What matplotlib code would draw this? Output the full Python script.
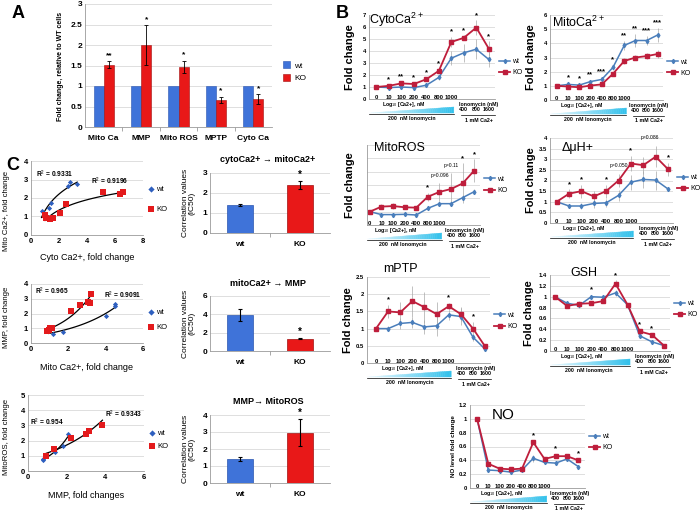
import numpy as np
import matplotlib
matplotlib.use('Agg')
import matplotlib.pyplot as plt
import matplotlib.transforms as mtransforms
from matplotlib.patches import Polygon

plt.rcParams['font.family'] = ['Liberation Sans', 'DejaVu Sans']
plt.rcParams['mathtext.fontset'] = 'custom'
plt.rcParams['mathtext.rm'] = 'Liberation Sans'
plt.rcParams['mathtext.bf'] = 'Liberation Sans:bold'

# ---------------- data ----------------
# panel A
a_cats = ['Mito Ca', 'MMP', 'Mito ROS', 'MPTP', 'Cyto Ca']
a_wt = [1, 1, 1, 1, 1]
a_ko = [1.52, 2.0, 1.47, 0.66, 0.68]
a_ko_err = [0.08, 0.48, 0.15, 0.07, 0.12]
a_stars = ['**', '*', '*', '*', '*']

# panel B (10 points: 7 Ca2+ steps + 3 ionomycin doses)
conc_labels = ['0', '10', '100', '200', '400', '800', '1000']
iono_labels = ['400', '800', '1600']

cyto_wt = [1.0, 0.95, 1.0, 0.95, 1.15, 1.8, 3.4, 3.85, 4.15, 3.3]
cyto_ko = [1.0, 1.1, 1.3, 1.25, 1.65, 2.35, 4.75, 5.1, 5.95, 4.2]
cyto_wt_err = [0.05, 0.1, 0.1, 0.1, 0.15, 0.2, 0.6, 0.75, 0.85, 0.6]
cyto_ko_err = [0.05, 0.1, 0.1, 0.1, 0.1, 0.15, 0.4, 0.2, 0.6, 0.6]
cyto_stars = ['', '*', '**', '*', '*', '*', '*', '*', '*', '*']

mito_wt = [1.0, 1.1, 1.05, 1.3, 1.45, 2.3, 3.85, 4.2, 4.2, 4.6]
mito_ko = [1.0, 0.95, 0.9, 1.02, 1.1, 1.85, 2.75, 3.0, 3.1, 3.25]
mito_wt_err = [0.05, 0.1, 0.1, 0.1, 0.15, 0.2, 0.35, 0.45, 0.3, 0.5]
mito_ko_err = [0.05, 0.1, 0.1, 0.1, 0.1, 0.15, 0.2, 0.2, 0.2, 0.3]
mito_stars = ['', '*', '*', '**', '***', '*', '**', '**', '***', '***']

ros_wt = [1.0, 0.78, 0.78, 0.8, 0.75, 1.25, 1.6, 1.6, 2.05, 2.5]
ros_ko = [1.0, 1.38, 1.42, 1.33, 1.3, 2.12, 2.48, 2.7, 3.12, 4.08]
ros_wt_err = [0.03, 0.05, 0.05, 0.05, 0.05, 0.1, 0.2, 0.2, 0.2, 0.2]
ros_ko_err = [0.05, 0.2, 0.2, 0.15, 0.15, 0.3, 0.65, 1.2, 1.5, 0.85]
ros_stars = ['', '', '', '', '', '*', '', '', '*', '*']
ros_p = {6: 'p=0.096', 7: 'p=0.11'}

dmh_wt = [1.0, 0.8, 0.8, 0.92, 0.95, 1.3, 1.92, 2.05, 2.02, 1.6]
dmh_ko = [1.0, 1.38, 1.5, 1.25, 1.5, 2.0, 2.8, 2.72, 3.12, 2.53]
dmh_wt_err = [0.03, 0.1, 0.15, 0.2, 0.2, 0.25, 0.35, 0.4, 0.45, 0.1]
dmh_ko_err = [0.03, 0.2, 0.3, 0.25, 0.3, 0.3, 0.35, 0.4, 0.5, 0.3]
dmh_stars = ['', '*', '*', '', '*', '', '*', '', '', '*']
dmh_p = {5: 'p=0.050', 7.5: 'p=0.086'}

ptp_wt = [1.0, 1.0, 1.15, 1.18, 1.05, 1.08, 1.4, 1.35, 0.75, 0.4]
ptp_ko = [1.0, 1.5, 1.47, 1.8, 1.62, 1.42, 1.65, 1.42, 1.0, 0.48]
ptp_wt_err = [0.03, 0.08, 0.15, 0.15, 0.2, 0.3, 0.15, 0.25, 0.1, 0.05]
ptp_ko_err = [0.03, 0.18, 0.3, 0.45, 0.45, 0.35, 0.1, 0.2, 0.2, 0.05]
ptp_stars = ['', '*', '', '', '', '', '*', '', '*', '']

gsh_wt = [1.0, 0.88, 0.84, 1.0, 0.99, 1.07, 0.85, 0.28, 0.17, 0.1]
gsh_ko = [1.0, 0.83, 0.87, 0.88, 0.92, 1.24, 0.85, 0.36, 0.3, 0.1]
gsh_wt_err = [0.02, 0.05, 0.04, 0.04, 0.03, 0.05, 0.03, 0.04, 0.02, 0.02]
gsh_ko_err = [0.02, 0.03, 0.05, 0.04, 0.03, 0.06, 0.03, 0.04, 0.03, 0.02]
gsh_stars = ['', '', '', '*', '', '*', '', '*', '*', '']

no_wt = [1.0, 0.26, 0.25, 0.23, 0.26, 0.43, 0.37, 0.36, 0.42, 0.31]
no_ko = [1.0, 0.35, 0.28, 0.27, 0.28, 0.66, 0.42, 0.46, 0.46, 0.4]
no_wt_err = [0.01, 0.03, 0.03, 0.03, 0.03, 0.05, 0.02, 0.03, 0.02, 0.02]
no_ko_err = [0.01, 0.03, 0.02, 0.03, 0.03, 0.03, 0.02, 0.03, 0.02, 0.02]
no_stars = ['', '', '', '', '', '*', '', '*', '', '*']

# panel C scatter
c1_wt_x = [0.75, 1.0, 1.3, 1.4, 2.65, 2.8, 3.3]
c1_wt_y = [1.3, 1.0, 1.45, 1.75, 2.65, 2.85, 2.75]
c1_ko_x = [1.0, 1.1, 1.35, 1.55, 2.05, 2.5, 5.15, 6.35, 6.6]
c1_ko_y = [1.1, 0.9, 0.85, 0.9, 1.2, 1.65, 2.3, 2.2, 2.3]
c2_wt_x = [0.95, 1.2, 1.7, 4.0, 4.5, 4.5]
c2_wt_y = [0.85, 0.6, 0.75, 1.8, 2.65, 2.5]
c2_ko_x = [0.85, 0.95, 1.0, 1.1, 2.15, 2.6, 3.05, 3.15, 3.2]
c2_ko_y = [0.8, 0.9, 1.05, 1.0, 2.2, 2.6, 2.75, 2.7, 3.3]
c3_wt_x = [0.75, 0.8, 1.4, 1.8, 2.05]
c3_wt_y = [0.75, 0.8, 1.25, 1.65, 2.45]
c3_ko_x = [0.95, 1.35, 2.2, 3.0, 3.15, 3.85]
c3_ko_y = [1.0, 1.45, 2.15, 2.45, 2.65, 3.05]

# panel C correlation bars
c_titles = ['cytoCa2+ \u2192 mitoCa2+', 'mitoCa2+ \u2192 MMP', 'MMP\u2192 MitoROS']
c_wt = [1.4, 3.95, 1.4]
c_wt_err = [0.07, 0.65, 0.12]
c_ko = [2.4, 1.35, 2.95]
c_ko_err = [0.22, 0.07, 0.8]

W, H = 700, 514
fig = plt.figure(figsize=(7, 5.14), dpi=100)

BLUE_BAR = '#3f73d9'
RED_BAR = '#e81818'
WT_LINE = '#4a7ebb'
KO_LINE = '#be1e3c'
GRID = '#d9d9d9'
SPINE = '#9a9a9a'


def add_ax(x0, y0, x1, y1):
    return fig.add_axes([x0 / W, 1 - y1 / H, (x1 - x0) / W, (y1 - y0) / H])


def ftext(x, y, s, **kw):
    kw.setdefault('ha', 'center')
    kw.setdefault('va', 'center')
    fig.text(x / W, 1 - y / H, s, **kw)


def style(ax, tick_fs=5):
    for s in ['top', 'right']:
        ax.spines[s].set_visible(False)
    ax.spines['left'].set_color(SPINE)
    ax.spines['bottom'].set_color(SPINE)
    ax.spines['left'].set_linewidth(0.6)
    ax.spines['bottom'].set_linewidth(0.6)
    ax.yaxis.grid(True, color=GRID, lw=0.6)
    ax.set_axisbelow(True)
    ax.tick_params(labelsize=tick_fs, length=0, pad=2)
    for t in ax.get_yticklabels() + ax.get_xticklabels():
        t.set_fontweight('bold')


# ---------------- panel A ----------------
axA = add_ax(85, 4, 272, 127)
xa = np.arange(len(a_cats))
bw = 0.27
axA.bar(xa - bw / 2, a_wt, bw, color=BLUE_BAR, edgecolor='#2a55b0', lw=0.4, label='wt')
axA.bar(xa + bw / 2, a_ko, bw, yerr=a_ko_err, color=RED_BAR, edgecolor='#a01010', lw=0.4,
        error_kw=dict(elinewidth=0.6, capsize=1.5, capthick=0.6), label='KO')
for i, s in enumerate(a_stars):
    axA.text(xa[i] + bw / 2, a_ko[i] + a_ko_err[i] + 0.06, s, ha='center', va='bottom',
             fontsize=6, fontweight='bold')
axA.set_xlim(-0.5, len(a_cats) - 0.5)
axA.set_ylim(0, 3)
axA.set_yticks(np.arange(0, 3.01, 0.5))
axA.set_yticklabels(['0', '0.5', '1', '1.5', '2', '2.5', '3'])
axA.set_xticks(xa)
axA.set_xticklabels(a_cats)
style(axA, 6)
axA.tick_params(axis='x', pad=6)
axA.set_xticks(np.arange(0.5, len(a_cats) - 0.5), minor=True)
axA.tick_params(axis='x', which='minor', length=3, color=SPINE, direction='out')
axA.legend(loc='center left', bbox_to_anchor=(1.04, 0.45), frameon=False, fontsize=6,
           handlelength=0.9, handleheight=0.9, handletextpad=0.5, labelspacing=0.5,
           borderaxespad=0)
ftext(61, 66, 'Fold change, relative to WT cells', rotation=90, fontsize=5, fontweight='bold')
ftext(18, 14, 'A', fontsize=13, fontweight='bold')


# ---------------- panel B ----------------
def ion_annot(ax, h_px, x_left):
    tr = mtransforms.blended_transform_factory(ax.transData, ax.transAxes)

    def f(dy):
        return -dy / h_px

    kw = dict(transform=tr, ha='center', va='center', fontsize=3.8, fontweight='bold',
              clip_on=False)
    ax.text(2.2, f(5.5), 'Log$_{10}$ [Ca2+], nM', **kw)
    x0, x1 = x_left, 6.2
    n = 40
    xs = np.linspace(x0, x1, n + 1)
    c0 = np.array([0.93, 0.98, 1.0])
    c1 = np.array([0.18, 0.75, 0.92])
    for i in range(n):
        xa_, xb_ = xs[i], xs[i + 1]
        ta = 14 - 6 * (xa_ - x0) / (x1 - x0)
        tb = 14 - 6 * (xb_ - x0) / (x1 - x0)
        col = c0 + (c1 - c0) * (i / n)
        ax.add_patch(Polygon([[xa_, f(14)], [xb_, f(14)], [xb_, f(tb)], [xa_, f(ta)]],
                             closed=True, transform=tr, clip_on=False, fc=col, ec=col, lw=0.3))
    ax.plot([x0, x1], [f(15), f(15)], color='k', lw=0.5, transform=tr, clip_on=False)
    ax.text(2.8, f(19.5), '200  nM Ionomycin', **kw)
    ax.text(8.2, f(5.5), 'Ionomycin (nM)', **kw)
    for xi, s in zip([7, 8, 9], iono_labels):
        ax.text(xi, f(10.5), s, **kw)
    ax.plot([6.8, 9.5], [f(16), f(16)], color='k', lw=0.5, transform=tr, clip_on=False)
    ax.text(8.2, f(21), '1 mM Ca2+', **kw)


def line_panel(box, wt, ko, wt_err, ko_err, stars, ymax, ystep, xlim_left, xlim_right,
               leg_y, pvals=None, show_ylabels=True):
    ax = add_ax(*box)
    h_px = box[3] - box[1]
    x = np.arange(len(wt))
    ax.errorbar(x, ko, yerr=ko_err, fmt='none', ecolor='#a8a8a8', elinewidth=0.5)
    ax.errorbar(x, wt, yerr=wt_err, fmt='none', ecolor='#a8a8a8', elinewidth=0.5)
    ax.plot(x, wt, color=WT_LINE, lw=1.1, marker='d', ms=2.2, label='wt')
    ax.plot(x, ko, color=KO_LINE, lw=1.3, marker='s', ms=2.2, label='KO')
    top = np.maximum(np.array(wt) + wt_err, np.array(ko) + ko_err)
    for i, s in enumerate(stars):
        if s:
            ax.text(i, top[i] + 0.06 * ymax, s, ha='center', va='center', fontsize=5.5,
                    fontweight='bold', clip_on=False)
    if pvals:
        for i, s in pvals.items():
            j = int(round(i))
            ax.text(i, top[j] + 0.1 * ymax, s, ha='center', va='center', fontsize=3.6)
    ion_annot(ax, h_px, xlim_left)
    ax.set_xlim(xlim_left, xlim_right)
    ax.set_ylim(0, ymax)
    ticks = np.arange(0, ymax + 1e-9, ystep)
    ax.set_yticks(ticks)
    if show_ylabels:
        ax.set_yticklabels([f'{t:g}' for t in ticks])
    else:
        ax.set_yticklabels([])
    ax.set_xticks(range(len(conc_labels)))
    ax.set_xticklabels(conc_labels)
    style(ax, 4.2)
    ax.tick_params(axis='x', pad=-3)
    ax.legend(loc='center left', bbox_to_anchor=(1.0, leg_y), frameon=False, fontsize=5,
              handlelength=1.6, handletextpad=0.3, labelspacing=0.6, borderaxespad=0.2)
    return ax


line_panel((369, 15, 495, 99), cyto_wt, cyto_ko, cyto_wt_err, cyto_ko_err, cyto_stars,
           7, 1, -0.6, 9.5, 0.38)
ftext(397, 20, 'CytoCa$^{2+}$', fontsize=9)
ftext(350, 57, 'Fold change', rotation=90, fontsize=8, fontweight='bold')
ftext(342, 14, 'B', fontsize=13, fontweight='bold')

line_panel((550, 15, 663, 100), mito_wt, mito_ko, mito_wt_err, mito_ko_err, mito_stars,
           6, 1, -0.6, 9.45, 0.38)
ftext(578, 22, 'MitoCa$^{2+}$', fontsize=9)
ftext(531, 57, 'Fold change', rotation=90, fontsize=8, fontweight='bold')

line_panel((367, 145, 480, 225), ros_wt, ros_ko, ros_wt_err, ros_ko_err, ros_stars,
           6, 1, -0.25, 9.5, 0.5, pvals=ros_p, show_ylabels=False)
ftext(399, 148, 'MitoROS', fontsize=9)
ftext(350, 185, 'Fold change', rotation=90, fontsize=8, fontweight='bold')

line_panel((550, 138, 673, 223), dmh_wt, dmh_ko, dmh_wt_err, dmh_ko_err, dmh_stars,
           4, 0.5, -0.54, 9.4, 0.47, pvals=dmh_p)
ftext(578, 148, '\u0394\u03bcH+', fontsize=9)
ftext(531, 180, 'Fold change', rotation=90, fontsize=8, fontweight='bold')

line_panel((367, 277, 490, 363), ptp_wt, ptp_ko, ptp_wt_err, ptp_ko_err, ptp_stars,
           2.5, 0.5, -0.74, 9.4, 0.49)
ftext(400, 269, 'mPTP', fontsize=9)
ftext(348, 320, 'Fold change', rotation=90, fontsize=8, fontweight='bold')

line_panel((550, 275, 670, 351), gsh_wt, gsh_ko, gsh_wt_err, gsh_ko_err, gsh_stars,
           1.4, 0.2, -0.41, 9.5, 0.55)
ftext(584, 273, 'GSH', fontsize=9)
ftext(529, 313, 'Fold change', rotation=90, fontsize=8, fontweight='bold')

line_panel((470, 405, 585, 488), no_wt, no_ko, no_wt_err, no_ko_err, no_stars,
           1.2, 0.2, -0.63, 9.6, 0.55)
ftext(503, 415, 'NO', fontsize=11)
ftext(453, 446, 'NO level fold change', rotation=90, fontsize=4.5, fontweight='bold')


# ---------------- panel C scatter ----------------
def log_fit(x, y):
    a, b = np.polyfit(np.log(x), y, 1)
    xs = np.linspace(min(x), max(x), 50)
    return xs, a * np.log(xs) + b


def exp_fit(x, y):
    b, a = np.polyfit(x, np.log(y), 1)
    xs = np.linspace(min(x), max(x), 50)
    return xs, np.exp(a) * np.exp(b * xs)


def scatter_panel(box, wx, wy, kx, ky, fit, xmax, xstep, ymax, xlab, ylab, xlab_y, ylab_x,
                  leg_y, leg_sp, r2, ylab_dy=4):
    ax = add_ax(*box)
    ax.scatter(wx, wy, marker='D', s=7, color='#2e5fbf', label='wt', zorder=3, lw=0)
    ax.scatter(kx, ky, marker='s', s=16, color='#e31a1c', label='KO', zorder=3, lw=0)
    for xx, yy in [(wx, wy), (kx, ky)]:
        fx, fy = fit(xx, yy)
        ax.plot(fx, fy, color='k', lw=0.9, zorder=2)
    for (tx, ty, s) in r2:
        ax.text(tx, ty, s, ha='center', va='center', fontsize=4.8, fontweight='bold')
    ax.set_xlim(0, xmax)
    ax.set_ylim(0, ymax)
    ax.set_xticks(np.arange(0, xmax + 0.01, xstep))
    ax.set_yticks(np.arange(0, ymax + 0.01, 1))
    style(ax, 5.5)
    ax.legend(loc='center left', bbox_to_anchor=(1.0, leg_y), frameon=False, fontsize=5.5,
              handletextpad=0.1, labelspacing=leg_sp, borderaxespad=0.2, handlelength=1,
              markerscale=1.2)
    ftext((box[0] + box[2]) / 2, xlab_y, xlab, fontsize=6.5)
    ftext(ylab_x, (box[1] + box[3]) / 2 + ylab_dy, ylab, rotation=90, fontsize=5.6)
    return ax


scatter_panel((31, 161, 143, 235), c1_wt_x, c1_wt_y, c1_ko_x, c1_ko_y, log_fit, 8, 2, 4,
              'Cyto Ca2+, fold change', 'Mito Ca2+, fold change', 258, 7, 0.48, 1.6,
              [(1.7, 3.28, 'R$^2$ = 0.9331'), (5.6, 2.88, 'R$^2$ = 0.9196')], ylab_dy=13)
scatter_panel((31, 284, 143, 343), c2_wt_x, c2_wt_y, c2_ko_x, c2_ko_y, exp_fit, 6, 2, 4,
              'Mito Ca2+, fold change', 'MMP, fold change', 367, 7, 0.39, 1.0,
              [(1.1, 3.5, 'R$^2$ = 0.965'), (4.9, 3.25, 'R$^2$ = 0.9091')])
scatter_panel((28, 395, 144, 471), c3_wt_x, c3_wt_y, c3_ko_x, c3_ko_y, exp_fit, 6, 2, 5,
              'MMP, fold changes', 'MitoROS, fold change', 495, 7, 0.41, 0.8,
              [(0.95, 3.2, 'R$^2$ = 0.954'), (4.95, 3.75, 'R$^2$ = 0.9343')])
ftext(13, 165, 'C', fontsize=13, fontweight='bold')

# ---------------- panel C bars ----------------
bar_boxes = [(210, 173, 330, 233), (210, 296, 330, 351), (210, 415, 330, 483)]
bar_ymax = [3, 6, 4]
bar_ystep = [1, 2, 1]
for k in range(3):
    box = bar_boxes[k]
    ax = add_ax(*box)
    ax.bar([0], [c_wt[k]], 0.42, yerr=[c_wt_err[k]], color=BLUE_BAR, edgecolor='#2a55b0',
           lw=0.5, error_kw=dict(elinewidth=0.8, capsize=1.2, capthick=0.8))
    ax.bar([1], [c_ko[k]], 0.42, yerr=[c_ko_err[k]], color=RED_BAR, edgecolor='#a01010',
           lw=0.5, error_kw=dict(elinewidth=0.8, capsize=1.2, capthick=0.8))
    ax.text(1, c_ko[k] + c_ko_err[k] + 0.02 * bar_ymax[k], '*', ha='center', va='bottom',
            fontsize=7, fontweight='bold')
    ax.set_xlim(-0.5, 1.5)
    ax.set_ylim(0, bar_ymax[k])
    ax.set_yticks(np.arange(0, bar_ymax[k] + 0.01, bar_ystep[k]))
    ax.set_xticks([0, 1])
    ax.set_xticklabels(['wt', 'KO'])
    style(ax, 6)
    ax.tick_params(axis='x', pad=6)
    ax.tick_params(axis='y', labelsize=6)
    ax.set_xticks([0.5], minor=True)
    ax.tick_params(axis='x', which='minor', length=3, color=SPINE)
    ftext(268, box[1] - 13, c_titles[k], fontsize=6.5, fontweight='bold')
    ftext(189, (box[1] + box[3]) / 2, 'Correlation values\n(IC50)', rotation=90,
          fontsize=6, linespacing=1.0)

fig.savefig('out.png', dpi=100)
